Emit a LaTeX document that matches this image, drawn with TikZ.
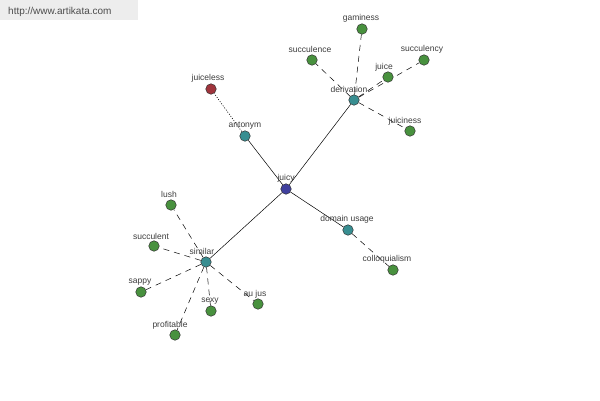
\documentclass[tikz,border=0pt]{standalone}
\usepackage{fontspec}
\setmainfont{Liberation Sans}
\usetikzlibrary{backgrounds}
\definecolor{gn}{RGB}{72,145,62}
\definecolor{tl}{RGB}{56,142,145}
\definecolor{bl}{RGB}{64,64,158}
\definecolor{rd}{RGB}{160,52,60}
\definecolor{txt}{RGB}{60,60,60}
\tikzset{
  dot/.style={circle,draw=black!80,line width=0.5pt,inner sep=0pt,minimum size=10.5pt,fill=#1},
  lab/.style={font=\fontsize{8.5}{9}\selectfont,text=txt,inner sep=0pt},
  rel/.style={draw=black,line width=0.5pt},
  dsh/.style={draw=black,line width=0.5pt,dash pattern=on 6pt off 5pt},
  dtt/.style={draw=black,line width=0.6pt,dash pattern=on 1pt off 1.6pt}
}
\begin{document}
\begin{tikzpicture}[x=1pt,y=-1pt]
\useasboundingbox (0,0) rectangle (600,400);
\fill[black!7] (0,0) rectangle (138,20);
\node[font=\fontsize{10}{11}\selectfont,text=black!70,anchor=base west,inner sep=0pt] (wm) at (8,14.5) {http://www.artikata.com};
% nodes
\node[dot=bl] (juicy) at (286,189) {};
\node[dot=tl] (antonym) at (245,136) {};
\node[dot=rd] (juiceless) at (211,89) {};
\node[dot=tl] (derivation) at (354,100) {};
\node[dot=gn] (gaminess) at (362,29) {};
\node[dot=gn] (succulence) at (312,60) {};
\node[dot=gn] (juice) at (388,77) {};
\node[dot=gn] (succulency) at (424,60) {};
\node[dot=gn] (juiciness) at (410,131) {};
\node[dot=tl] (domain) at (348,230) {};
\node[dot=gn] (colloq) at (393,270) {};
\node[dot=tl] (similar) at (206,262) {};
\node[dot=gn] (lush) at (171,205) {};
\node[dot=gn] (succulent) at (154,246) {};
\node[dot=gn] (sappy) at (141,292) {};
\node[dot=gn] (sexy) at (211,311) {};
\node[dot=gn] (aujus) at (258,304) {};
\node[dot=gn] (profitable) at (175,335) {};
% labels
\node[lab] (l-juicy) at (286,178.5) {juicy};
\node[lab] (l-antonym) at (245,125.5) {antonym};
\node[lab] (l-juiceless) at (208,78.5) {juiceless};
\node[lab] (l-derivation) at (349,89.5) {derivation};
\node[lab] (l-gaminess) at (361,18.5) {gaminess};
\node[lab] (l-succulence) at (310,49.5) {succulence};
\node[lab] (l-juice) at (384,67.5) {juice};
\node[lab] (l-succulency) at (422,49.5) {succulency};
\node[lab] (l-juiciness) at (405,121.5) {juiciness};
\node[lab] (l-domain) at (347,219.5) {domain usage};
\node[lab] (l-colloq) at (387,259.5) {colloquialism};
\node[lab] (l-similar) at (202,251.5) {similar};
\node[lab] (l-lush) at (169,194.5) {lush};
\node[lab] (l-succulent) at (151,236.5) {succulent};
\node[lab] (l-sappy) at (140,282.5) {sappy};
\node[lab] (l-sexy) at (210,301.5) {sexy};
\node[lab] (l-aujus) at (255,294.5) {au jus};
\node[lab] (l-profitable) at (170,325.5) {profitable};
% edges
\begin{pgfonlayer}{background}
\draw[rel] (juicy) -- (antonym);
\draw[rel] (juicy) -- (derivation);
\draw[rel] (juicy) -- (domain);
\draw[rel] (juicy) -- (similar);
\draw[dtt] (antonym) -- (juiceless);
\draw[dsh] (derivation) -- (gaminess);
\draw[dsh] (derivation) -- (succulence);
\draw[dsh] (derivation) -- (juice);
\draw[dsh] (derivation) -- (succulency);
\draw[dsh] (derivation) -- (juiciness);
\draw[dsh] (domain) -- (colloq);
\draw[dsh] (similar) -- (lush);
\draw[dsh] (similar) -- (succulent);
\draw[dsh] (similar) -- (sappy);
\draw[dsh] (similar) -- (sexy);
\draw[dsh] (similar) -- (aujus);
\draw[dsh] (similar) -- (profitable);
\end{pgfonlayer}
\end{tikzpicture}
\end{document}
